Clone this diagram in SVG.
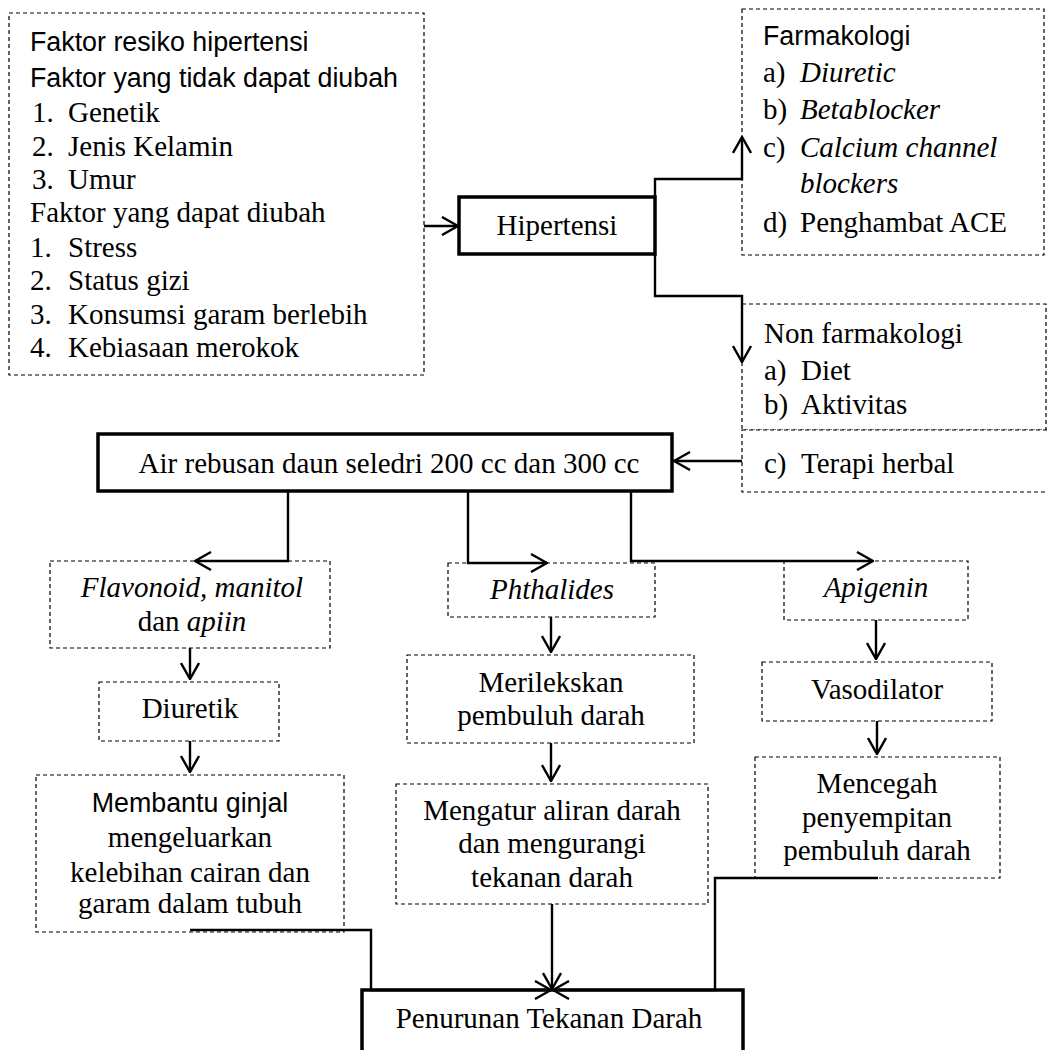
<svg xmlns="http://www.w3.org/2000/svg" width="1047" height="1050" viewBox="0 0 1047 1050">
<style>
.dash{fill:#fff;stroke:#000;stroke-width:1.2;stroke-dasharray:4,3}
.thick{fill:#fff;stroke:#000;stroke-width:3.5}
.s{font-family:"Liberation Sans",Arial,sans-serif;font-size:26.8px;fill:#000}
.t{font-family:"Liberation Serif","Times New Roman",serif;font-size:29px;fill:#000}
.c{text-anchor:middle}
.i{font-style:italic}
.conn{fill:none;stroke:#000;stroke-width:2.4}
</style>
<defs>
<marker id="ah" viewBox="0 0 18 20" refX="17" refY="10" markerWidth="18" markerHeight="20" markerUnits="userSpaceOnUse" orient="auto">
<path d="M1,1 L17,10 L1,19" fill="none" stroke="#000" stroke-width="2.4"/>
</marker>
</defs>

<g id="faktor">
<rect class="dash" x="9" y="13" width="415" height="362"/>
<text class="s" x="30" y="51">Faktor resiko hipertensi</text>
<text class="s" x="30" y="87">Faktor yang tidak dapat diubah</text>
<text class="t" x="32" y="122">1.</text><text class="t" x="68" y="122">Genetik</text>
<text class="t" x="32" y="156">2.</text><text class="t" x="68" y="156">Jenis Kelamin</text>
<text class="t" x="32" y="189">3.</text><text class="t" x="68" y="189">Umur</text>
<text class="t" x="30" y="222">Faktor yang dapat diubah</text>
<text class="t" x="30" y="257">1.</text><text class="t" x="68" y="257">Stress</text>
<text class="t" x="30" y="290">2.</text><text class="t" x="68" y="290">Status gizi</text>
<text class="t" x="30" y="324">3.</text><text class="t" x="68" y="324">Konsumsi garam berlebih</text>
<text class="t" x="30" y="357">4.</text><text class="t" x="68" y="357">Kebiasaan merokok</text>
</g>

<g id="hipertensi">
<rect class="thick" x="459" y="197" width="196" height="57"/>
<text class="t c" x="557" y="235">Hipertensi</text>
</g>

<g id="farmakologi">
<rect class="dash" x="742" y="9" width="302" height="246"/>
<text class="s" x="763" y="45">Farmakologi</text>
<text class="t" x="763" y="82">a)</text><text class="t i" x="800" y="82">Diuretic</text>
<text class="t" x="763" y="119">b)</text><text class="t i" x="800" y="119">Betablocker</text>
<text class="t" x="763" y="157">c)</text><text class="t i" x="800" y="157">Calcium channel</text>
<text class="t i" x="800" y="193">blockers</text>
<text class="t" x="763" y="232">d)</text><text class="t" x="800" y="232">Penghambat ACE</text>
</g>

<g id="nonfarmakologi">
<rect class="dash" x="742" y="304" width="304" height="126"/>
<text class="t" x="764" y="343">Non farmakologi</text>
<text class="t" x="764" y="380">a)</text><text class="t" x="801" y="380">Diet</text>
<text class="t" x="764" y="414">b)</text><text class="t" x="801" y="414">Aktivitas</text>
</g>

<g id="terapi">
<rect class="dash" x="742" y="430" width="320" height="62"/>
<text class="t" x="764" y="473">c)</text><text class="t" x="801" y="473">Terapi herbal</text>
</g>

<g id="air">
<rect class="thick" x="98" y="434" width="574" height="57"/>
<text class="t c" x="389" y="473">Air rebusan daun seledri 200 cc dan 300 cc</text>
</g>

<g id="flavonoid">
<rect class="dash" x="50" y="561" width="280" height="87"/>
<text class="t c i" x="192" y="597">Flavonoid, manitol</text>
<text class="t c" x="192" y="631">dan <tspan class="i">apiin</tspan></text>
</g>

<g id="phthalides">
<rect class="dash" x="448" y="563" width="207" height="54"/>
<text class="t c i" x="552" y="599">Phthalides</text>
</g>

<g id="apigenin">
<rect class="dash" x="784" y="561" width="184" height="59"/>
<text class="t c i" x="876" y="597">Apigenin</text>
</g>

<g id="diuretik">
<rect class="dash" x="99" y="682" width="180" height="59"/>
<text class="t c" x="190" y="718">Diuretik</text>
</g>

<g id="merilekskan">
<rect class="dash" x="407" y="655" width="287" height="88"/>
<text class="t c" x="551" y="692">Merilekskan</text>
<text class="t c" x="551" y="725">pembuluh darah</text>
</g>

<g id="vasodilator">
<rect class="dash" x="762" y="662" width="230" height="59"/>
<text class="t c" x="877" y="699">Vasodilator</text>
</g>

<g id="membantu">
<rect class="dash" x="36" y="775" width="308" height="157"/>
<text class="s c" x="190" y="812">Membantu ginjal</text>
<text class="t c" x="190" y="847">mengeluarkan</text>
<text class="t c" x="190" y="882">kelebihan cairan dan</text>
<text class="t c" x="190" y="913">garam dalam tubuh</text>
</g>

<g id="mengatur">
<rect class="dash" x="396" y="784" width="312" height="120"/>
<text class="t c" x="552" y="820">Mengatur aliran darah</text>
<text class="t c" x="552" y="853">dan mengurangi</text>
<text class="t c" x="552" y="887">tekanan darah</text>
</g>

<g id="mencegah">
<rect class="dash" x="755" y="757" width="245" height="121"/>
<text class="t c" x="877" y="793">Mencegah</text>
<text class="t c" x="877" y="827">penyempitan</text>
<text class="t c" x="877" y="860">pembuluh darah</text>
</g>

<g id="penurunan">
<rect class="thick" x="362" y="990" width="381" height="80"/>
<text class="t c" x="549" y="1028">Penurunan Tekanan Darah</text>
</g>

<g id="connectors">
<path class="conn" marker-end="url(#ah)" d="M424,226 H458"/>
<path class="conn" marker-end="url(#ah)" d="M655,197 V179 H742 V137"/>
<path class="conn" marker-end="url(#ah)" d="M655,254 V296 H742 V362"/>
<path class="conn" marker-end="url(#ah)" d="M742,461 H674"/>
<path class="conn" marker-end="url(#ah)" d="M288,491 V561 H195"/>
<path class="conn" marker-end="url(#ah)" d="M468,491 V563 H547"/>
<path class="conn" marker-end="url(#ah)" d="M631,491 V561 H873"/>
<path class="conn" marker-end="url(#ah)" d="M190,648 V679"/>
<path class="conn" marker-end="url(#ah)" d="M190,741 V772"/>
<path class="conn" marker-end="url(#ah)" d="M551,617 V652"/>
<path class="conn" marker-end="url(#ah)" d="M551,743 V781"/>
<path class="conn" marker-end="url(#ah)" d="M876,620 V659"/>
<path class="conn" marker-end="url(#ah)" d="M877,721 V754"/>
<path class="conn" marker-end="url(#ah)" d="M552,904 V989"/>
<path class="conn" marker-end="url(#ah)" d="M190,930 H371 V990 H551"/>
<path class="conn" marker-end="url(#ah)" d="M878,878 H715 V990 H553"/>
</g>
</svg>
